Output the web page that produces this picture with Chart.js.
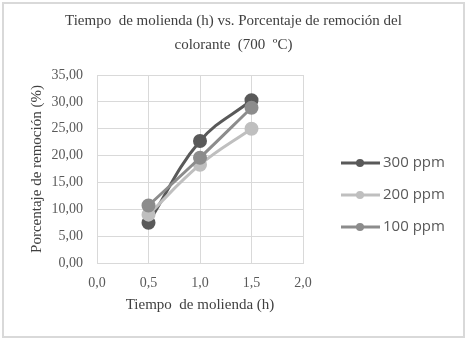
<!DOCTYPE html>
<html>
<head>
<meta charset="utf-8">
<script src="https://cdn.jsdelivr.net/npm/chart.js@4.4.1/dist/chart.umd.min.js"></script>
<style>
    body { margin: 0; background: #ffffff; }
    #wrap { width: 467px; height: 340px; position: relative; }
</style>
</head>
<body>
<div id="wrap"><canvas id="myLineChart" width="467" height="340"></canvas></div>
<script>
// Datos
const molienda = [0.5, 1.0, 1.5];
const serie300 = [7.5, 22.7, 30.3];
const serie200 = [9.0, 18.3, 25.0];
const serie100 = [10.7, 19.6, 28.9];
const seriesNames = ['300 ppm', '200 ppm', '100 ppm'];
const seriesColors = ['#595959', '#bfbfbf', '#8c8c8c'];
const titleLines = ['Tiempo  de molienda (h) vs. Porcentaje de remoción del', 'colorante  (700  ºC)'];

const serif = "'Liberation Serif', 'Times New Roman', serif";
const sans = "'Open Sans', 'Liberation Sans', sans-serif";

function toPoints(values) {
    return values.map((v, i) => ({ x: molienda[i], y: v }));
}

// Marco exterior, titulo y leyenda dibujados a mano
const framePlugin = {
    id: 'frame',
    beforeDraw(chart) {
        const c = chart.ctx;
        c.save();
        c.fillStyle = '#ffffff';
        c.fillRect(0, 0, chart.width, chart.height);
        c.strokeStyle = '#d9d9d9';
        c.lineWidth = 2;
        c.strokeRect(3, 3, chart.width - 6, chart.height - 6);
        // titulo centrado en todo el lienzo
        c.fillStyle = '#404040';
        c.font = '15px ' + serif;
        c.textAlign = 'center';
        c.textBaseline = 'middle';
        titleLines.forEach((line, i) => {
            c.fillText(line, chart.width / 2, 21 + i * 24);
        });
        c.restore();
    },
    afterDraw(chart) {
        const c = chart.ctx;
        c.save();
        chart.data.datasets.forEach((ds, i) => {
            const y = 163 + i * 32;
            c.strokeStyle = ds.borderColor;
            c.lineWidth = 3;
            c.beginPath();
            c.moveTo(341, y);
            c.lineTo(380, y);
            c.stroke();
            c.fillStyle = ds.borderColor;
            c.beginPath();
            c.arc(360, y, 4, 0, Math.PI * 2);
            c.fill();
            c.fillStyle = '#595959';
            c.font = '15px ' + sans;
            c.textBaseline = 'middle';
            c.fillText(ds.label, 383, y);
        });
        c.restore();
    }
};

function createLineChart() {
    const ctx = document.getElementById('myLineChart').getContext('2d');
    const allSeries = [serie300, serie200, serie100];

    new Chart(ctx, {
        type: 'scatter',
        data: {
            datasets: allSeries.map((s, i) => ({
                label: seriesNames[i],
                data: toPoints(s),
                showLine: true,
                borderColor: seriesColors[i],
                backgroundColor: seriesColors[i],
                borderWidth: 3,
                pointRadius: 5.5,
                pointHoverRadius: 5.5,
                tension: 0.4,
                order: 2 - i
            }))
        },
        options: {
            responsive: false,
            animation: false,
            layout: { padding: { left: 28, right: 164, top: 75, bottom: 22 } },
            scales: {
                x: {
                    type: 'linear',
                    min: 0,
                    max: 2,
                    ticks: {
                        stepSize: 0.5,
                        color: '#595959',
                        padding: 12,
                        font: { family: serif, size: 14 },
                        callback: v => v.toFixed(1).replace('.', ',')
                    },
                    grid: { color: '#d9d9d9', drawTicks: false },
                    border: { color: '#d9d9d9' },
                    title: {
                        display: true,
                        text: 'Tiempo  de molienda (h)',
                        color: '#404040',
                        font: { family: serif, size: 15 },
                        padding: { top: 2 }
                    },
                    afterFit: scale => { scale.height = 55; }
                },
                y: {
                    min: 0,
                    max: 35,
                    ticks: {
                        stepSize: 5,
                        color: '#595959',
                        padding: 14,
                        font: { family: serif, size: 14 },
                        callback: v => v.toFixed(2).replace('.', ',')
                    },
                    grid: { color: '#d9d9d9', drawTicks: false },
                    border: { display: false },
                    title: {
                        display: true,
                        text: 'Porcentaje de remoción (%)',
                        color: '#404040',
                        font: { family: serif, size: 15 },
                        padding: 0
                    },
                    afterFit: scale => { scale.width = 69; }
                }
            },
            plugins: {
                legend: { display: false },
                tooltip: { enabled: false },
                title: { display: false }
            }
        },
        plugins: [framePlugin]
    });
}

document.addEventListener('DOMContentLoaded', createLineChart);
</script>
</body>
</html>
